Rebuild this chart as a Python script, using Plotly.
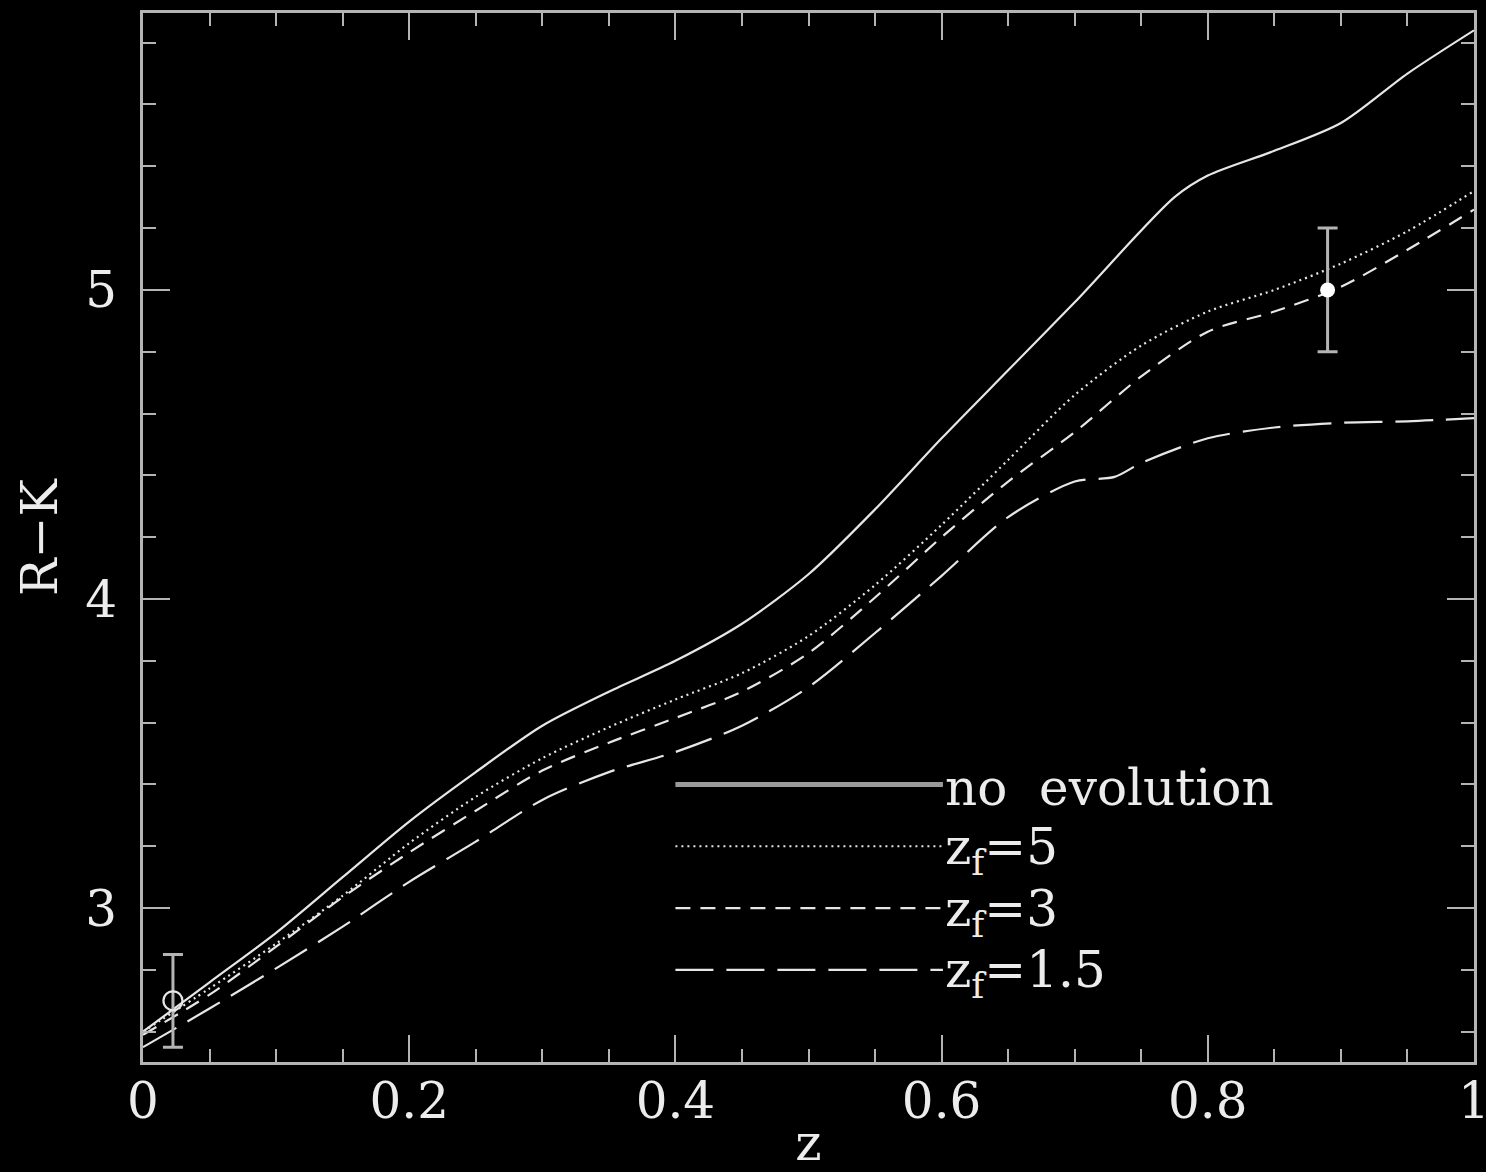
import plotly.graph_objects as go

# ---------------- data ----------------
z_noevo = [0.0, 0.05, 0.1, 0.15, 0.2, 0.25, 0.3, 0.35, 0.4, 0.45, 0.5, 0.55, 0.6, 0.65, 0.7, 0.775, 0.8, 0.85, 0.9, 0.95, 1.0]
rk_noevo = [2.60, 2.76, 2.92, 3.10, 3.28, 3.44, 3.59, 3.70, 3.80, 3.92, 4.08, 4.29, 4.52, 4.74, 4.96, 5.30, 5.37, 5.45, 5.54, 5.70, 5.84]

z_zf5 = [0.0, 0.05, 0.1, 0.15, 0.2, 0.25, 0.3, 0.35, 0.4, 0.45, 0.5, 0.55, 0.6, 0.65, 0.7, 0.75, 0.8, 0.85, 0.9, 0.95, 1.0]
rk_zf5 = [2.60, 2.74, 2.885, 3.04, 3.21, 3.36, 3.485, 3.585, 3.675, 3.76, 3.88, 4.045, 4.24, 4.45, 4.66, 4.82, 4.93, 5.00, 5.085, 5.19, 5.32]

z_zf3 = [0.0, 0.05, 0.1, 0.15, 0.2, 0.25, 0.3, 0.35, 0.4, 0.45, 0.5, 0.55, 0.6, 0.65, 0.7, 0.75, 0.8, 0.85, 0.9, 0.95, 1.0]
rk_zf3 = [2.59, 2.72, 2.875, 3.035, 3.18, 3.315, 3.445, 3.535, 3.615, 3.70, 3.825, 4.005, 4.20, 4.38, 4.54, 4.72, 4.865, 4.93, 5.01, 5.13, 5.26]

z_zf15 = [0.0, 0.05, 0.1, 0.15, 0.2, 0.25, 0.3, 0.35, 0.4, 0.45, 0.5, 0.55, 0.6, 0.65, 0.7, 0.73, 0.75, 0.8, 0.85, 0.9, 0.95, 1.0]
rk_zf15 = [2.55, 2.675, 2.805, 2.94, 3.085, 3.215, 3.35, 3.44, 3.505, 3.59, 3.715, 3.89, 4.075, 4.265, 4.38, 4.395, 4.44, 4.52, 4.555, 4.57, 4.575, 4.585]

# observed points
z_obs_open = [0.0225]
rk_obs_open = [2.70]
err_obs_open = [0.15]
z_obs_fill = [0.89]
rk_obs_fill = [5.0]
err_obs_fill = [0.2]

legend_labels = ["no  evolution", "z<sub>f</sub>=5", "z<sub>f</sub>=3", "z<sub>f</sub>=1.5"]
x_ticks = [0, 0.2, 0.4, 0.6, 0.8, 1.0]
x_ticktext = ["0", "0.2", "0.4", "0.6", "0.8", "1"]
y_ticks = [3, 4, 5]
y_ticktext = ["3", "4", "5"]

# ---------------- style ----------------
FONT = "DejaVu Serif"
CURVE = "#e6e6e6"
AXIS = "#b4b4b4"
TEXT = "#ececec"
dashes = ["solid", "2px,4px", "15px,10px", "38px,13px"]

fig = go.Figure()
series = [(z_noevo, rk_noevo), (z_zf5, rk_zf5), (z_zf3, rk_zf3), (z_zf15, rk_zf15)]
for (zz, rr), d, name in zip(series, dashes, legend_labels):
    fig.add_trace(go.Scatter(x=zz, y=rr, mode="lines", name=name,
                             line=dict(color=CURVE, width=2.2, dash=d, shape="spline", smoothing=0.8),
                             showlegend=False, hoverinfo="skip"))

fig.add_trace(go.Scatter(x=z_obs_open, y=rk_obs_open, mode="markers",
                         marker=dict(symbol="circle-open", size=19, color=CURVE, line=dict(width=2.2, color=CURVE)),
                         error_y=dict(type="data", array=err_obs_open, color=AXIS, thickness=3, width=10),
                         showlegend=False))
fig.add_trace(go.Scatter(x=z_obs_fill, y=rk_obs_fill, mode="markers",
                         marker=dict(symbol="circle", size=15, color="#ffffff"),
                         error_y=dict(type="data", array=err_obs_fill, color=AXIS, thickness=3, width=10),
                         showlegend=False))

# legend drawn in data coordinates (PGPLOT style)
LEG_X0, LEG_X1 = 0.40, 0.601
LEG_Y = [3.40, 3.20, 3.00, 2.80]
for i, (lab, d) in enumerate(zip(legend_labels, dashes)):
    col = "#9a9a9a" if i == 0 else CURVE
    w = 5 if i == 0 else 2.2
    fig.add_shape(type="line", xref="x", yref="y", x0=LEG_X0, x1=LEG_X1, y0=LEG_Y[i], y1=LEG_Y[i],
                  line=dict(color=col, width=w, dash=d))
    fig.add_annotation(x=LEG_X1, y=LEG_Y[i], xref="x", yref="y", text=lab, showarrow=False,
                       xanchor="left", yanchor="middle", xshift=0, yshift=-4,
                       font=dict(family=FONT, size=50, color=TEXT))

axis_common = dict(showgrid=False, zeroline=False, showline=True, linecolor=AXIS, linewidth=3,
                   ticks="inside", mirror="allticks", tickcolor=AXIS, tickwidth=2, automargin=False,
                   ticklabeloverflow="allow",
                   tickfont=dict(family=FONT, size=50, color=TEXT))

fig.update_xaxes(range=[0, 1], tickmode="array", tickvals=x_ticks, ticktext=x_ticktext, ticklen=27,
                 ticklabelstandoff=-7,
                 minor=dict(dtick=0.05, tick0=0, ticklen=13, tickwidth=2, tickcolor=AXIS, ticks="inside"),
                 title=dict(text="z", font=dict(family=FONT, size=50, color=TEXT), standoff=8),
                 **axis_common)
fig.update_yaxes(range=[2.502, 5.896], tickmode="array", tickvals=y_ticks, ticktext=y_ticktext, ticklen=27,
                 ticklabelstandoff=13,
                 minor=dict(dtick=0.2, tick0=0, ticklen=13, tickwidth=2, tickcolor=AXIS, ticks="inside"),
                 title=dict(text="R−K", font=dict(family=FONT, size=50, color=TEXT), standoff=12),
                 **axis_common)

fig.update_layout(width=1486, height=1172, paper_bgcolor="black", plot_bgcolor="black",
                  margin=dict(l=143, r=12, t=13, b=110), showlegend=False)

fig.write_html("out.html", config={"displayModeBar": False},
               post_script="document.body.style.margin='0';document.body.style.background='black';")
